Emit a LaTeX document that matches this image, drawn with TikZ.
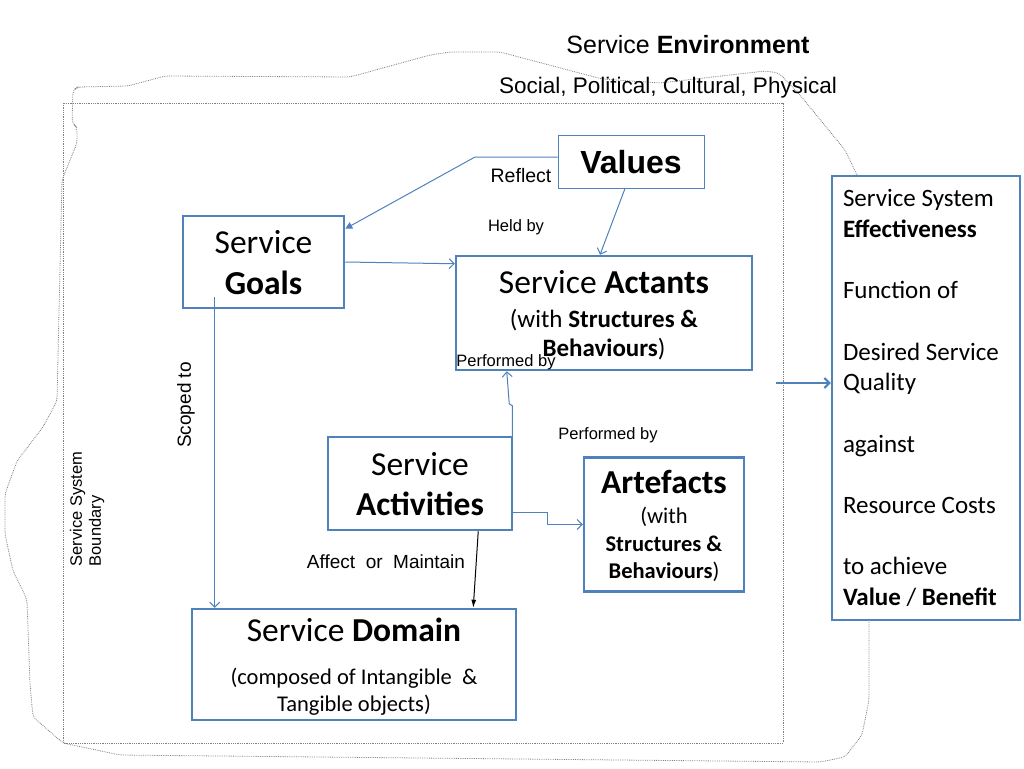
\documentclass[tikz,border=0pt]{standalone}
\usepackage{fontspec}
\setmainfont{Carlito}
\newfontfamily\arialfont{Liberation Sans}
\usetikzlibrary{arrows.meta}

\definecolor{boxblue}{RGB}{79,129,189}

\begin{document}
\begin{tikzpicture}[x=1pt,y=-1pt,
  box/.style={draw=boxblue, line width=2.5pt, align=center, inner sep=0pt, text depth=0pt},
  link/.style={draw=boxblue, line width=1pt, -{Straight Barb[length=5pt,width=10pt]}},
  lbl/.style={font=\arialfont\fontsize{16.5}{19}\selectfont, inner sep=0pt},
  edge/.style={gray, densely dotted, line width=0.8pt}]

\useasboundingbox (0,0) rectangle (1024,768);

% boundaries
\draw[edge] (63,103) rectangle (783,743);
\draw[edge, rounded corners=4pt] (857,175) -- (845,150) -- (800,95) -- (779,73) -- (765,71)
  -- (660,83) -- (602,79) -- (500,52) -- (450,52) -- (430,55) -- (350,77) -- (165,76)
  -- (128,86) -- (78,87) -- (73,90) -- (72,123) -- (77,127) -- (77,143) -- (62,180)
  -- (57,401) -- (43,427) -- (17,461) -- (5,494) -- (5,534) -- (13,571) -- (23,591)
  -- (27,600) -- (30,684) -- (33,717) -- (63,743) -- (120,755) -- (620,760)
  -- (820,762) -- (845,757) -- (862,735) -- (869,700) -- (869,621);

% boxes
\node[box, line width=1pt, minimum width=146, minimum height=53,
  font=\arialfont\bfseries\fontsize{32}{36}\selectfont] (values) at (631,161.5) {Values};
\node[box, minimum width=161, minimum height=92,
  font=\fontsize{33.5}{41}\selectfont] (goals) at (263.5,262) {Service\\\textbf{Goals}};
\node[box, minimum width=296, minimum height=114,
  font=\fontsize{33.5}{34}\selectfont] (actants) at (604,313)
  {Service \textbf{Actants}\\{\fontsize{25}{29}\selectfont (with \textbf{Structures \&}}\\[-5pt]
   {\fontsize{25}{29}\selectfont\textbf{Behaviours})}};
\node[box, minimum width=184, minimum height=93,
  font=\fontsize{33.5}{40}\selectfont] (acts) at (420,483.5) {Service\\\textbf{Activities}};
\node[box, minimum width=160, minimum height=134,
  font=\fontsize{33.5}{30}\selectfont] (arte) at (664,524.5)
  {\textbf{Artefacts}\\{\fontsize{22.5}{27}\selectfont (with}\\[-2pt]
   {\fontsize{22.5}{27}\selectfont\textbf{Structures \&}}\\[-2.5pt]
   {\fontsize{22.5}{27}\selectfont\textbf{Behaviours})}};
\node[box, minimum width=324, minimum height=111,
  font=\fontsize{33.5}{43}\selectfont] (domain) at (354,664.5)
  {Service \textbf{Domain}\\{\fontsize{22.5}{27}\selectfont (composed of Intangible\ \ \&}\\[-16pt]
   {\fontsize{22.5}{27}\selectfont Tangible objects)}};
\node[box, text depth=, minimum width=188, minimum height=444, text width=166, align=flush left,
  font=\fontsize{25}{30.7}\selectfont] (eff) at (926,398)
  {Service System\\\textbf{Effectiveness}\\[30.7pt]Function of\\[30.7pt]Desired Service\\Quality\\[30.7pt]
   against\\[30.7pt]Resource Costs\\[30.7pt]to achieve\\\textbf{Value} / \textbf{Benefit}};

% labels
\node[font=\arialfont\fontsize{25}{28}\selectfont, inner sep=0pt] (envtitle) at (688,45)
  {Service \textbf{Environment}};
\node[font=\arialfont\fontsize{22.5}{26}\selectfont, inner sep=0pt] (envlist) at (668,88)
  {Social, Political, Cultural, Physical};
\node[lbl, font=\arialfont\fontsize{19.5}{22}\selectfont] (reflect) at (521,176) {Reflect};
\node[lbl] (heldby) at (516,227) {Held by};
\node[lbl] (perf1) at (506,362) {Performed by};
\node[lbl] (perf2) at (608,435) {Performed by};
\node[lbl, font=\arialfont\fontsize{19}{22}\selectfont, rotate=90] (scoped) at (186,405) {Scoped to};
\node[lbl, rotate=90, align=left] (sysbound) at (87,509) {Service System\\Boundary};
\node[lbl, font=\arialfont\fontsize{19}{22}\selectfont] (affect) at (386,562) {Affect\ \ or\ \ Maintain};

% connectors
\draw[link, -{Triangle[length=7pt,width=7pt]}] ([yshift=4.5pt]values.west) -- (475,157)
  -- ([yshift=-14pt]goals.north east);
\draw[link] ([xshift=-6pt]values.south) -- ([xshift=-4pt]actants.north);
\draw[link] (goals.east) -- ([yshift=-9pt]actants.north west);
\draw[link] ([shift={(33pt,12pt)}]goals.south west) -- ([xshift=24pt]domain.north west);
\draw[link] ([xshift=-1pt]acts.north east) -- ++(0,-30) -- ++(-3,-2)
  -- ([xshift=52pt]actants.south west);
\draw[link] ([yshift=-28.5pt]acts.east) -- ++(34,0) |- (arte.west);
\draw[line width=1pt, -{Latex[length=8pt,width=5pt]}] ([xshift=-35pt]acts.south east)
  -- ([xshift=-44pt]domain.north east);
\coordinate (cut) at (776,383);
\draw[link, line width=2pt] (cut) -- (cut -| eff.west);

\end{tikzpicture}
\end{document}
